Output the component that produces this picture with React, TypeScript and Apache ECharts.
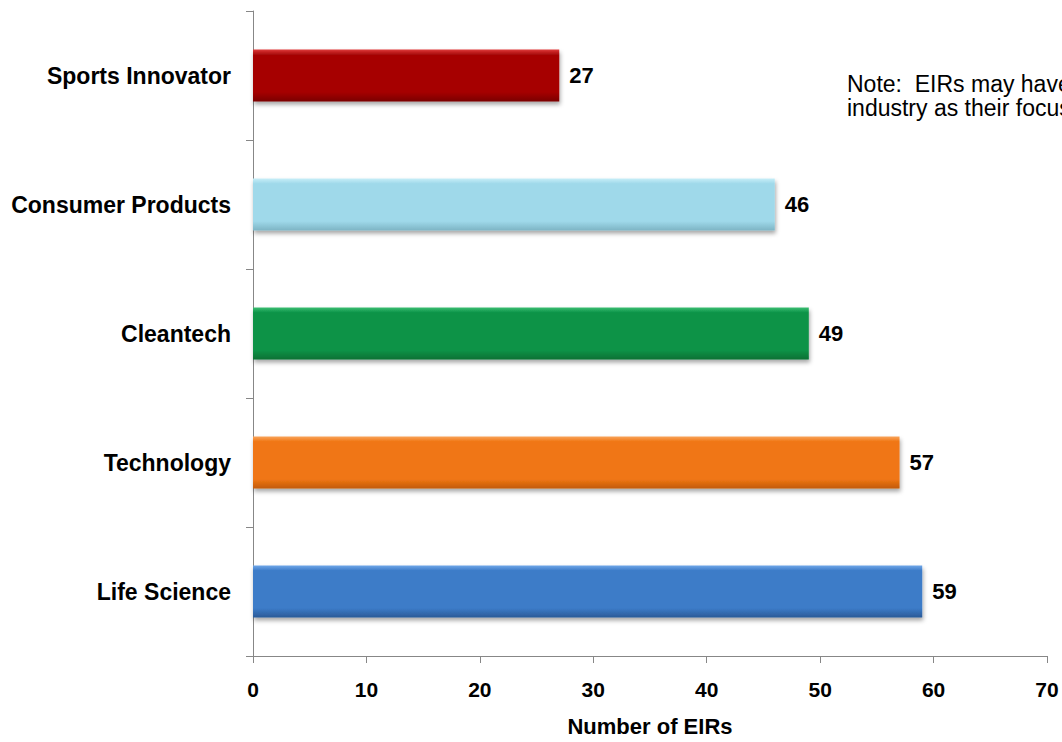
import React, { useEffect, useRef } from "react";
import * as echarts from "echarts";

const categories = ["Life Science", "Technology", "Cleantech", "Consumer Products", "Sports Innovator"];
const values = [59, 57, 49, 46, 27];
const baseColors = ["#3C7BC8", "#F07614", "#0A9347", "#9FD9EA", "#A60606"];
const lightColors = ["#6FA6E8", "#F9A45A", "#3DBE73", "#C7EEF8", "#E03A3A"];
const darkColors = ["#2A5A97", "#C25A0A", "#077034", "#7DB4C4", "#7A0303"];
const xTicks = [0, 10, 20, 30, 40, 50, 60, 70];
const xAxisName = "Number of EIRs";
const noteLines = ["Note:  EIRs may have selected more than one", "industry as their focus"];

export default function App() {
  const ref = useRef<HTMLDivElement>(null);
  useEffect(() => {
    if (!ref.current) return;
    document.body.style.margin = "0";
    document.body.style.overflow = "hidden";
    const chart = echarts.init(ref.current, undefined, { renderer: "svg" });
    const font = "Arial, 'Liberation Sans', sans-serif";
    chart.setOption({
      animation: false,
      backgroundColor: "#ffffff",
      grid: { left: 253, right: 15, top: 11, bottom: 79, containLabel: false },
      xAxis: {
        type: "value",
        min: xTicks[0],
        max: xTicks[xTicks.length - 1],
        interval: 10,
        name: xAxisName,
        nameLocation: "middle",
        nameGap: 59,
        nameTextStyle: { fontFamily: font, fontWeight: "bold", fontSize: 22, color: "#000" },
        axisLine: { show: true, lineStyle: { color: "#878787", width: 1 } },
        axisTick: { show: true, length: 7, lineStyle: { color: "#878787" } },
        axisLabel: { margin: 23, fontFamily: font, fontWeight: "bold", fontSize: 21, color: "#000" },
        splitLine: { show: false },
      },
      yAxis: {
        type: "category",
        data: categories,
        axisLine: { show: true, lineStyle: { color: "#878787", width: 1 } },
        axisTick: { show: true, length: 7, inside: false, lineStyle: { color: "#878787" } },
        axisLabel: { margin: 22, fontFamily: font, fontWeight: "bold", fontSize: 23, color: "#000" },
        splitLine: { show: false },
      },
      series: [
        {
          type: "bar",
          barWidth: 52,
          data: values.map((v, i) => ({
            value: v,
            itemStyle: {
              color: new echarts.graphic.LinearGradient(0, 0, 0, 1, [
                { offset: 0, color: lightColors[i] },
                { offset: 0.1, color: baseColors[i] },
                { offset: 0.82, color: baseColors[i] },
                { offset: 1, color: darkColors[i] },
              ]),
              shadowColor: "rgba(0,0,0,0.35)",
              shadowBlur: 4,
              shadowOffsetY: 3,
              shadowOffsetX: 1,
            },
          })),
          label: {
            show: true,
            position: "right",
            distance: 10,
            fontFamily: font,
            fontWeight: "bold",
            fontSize: 22,
            color: "#000",
          },
        },
      ],
      graphic: noteLines.map((t, i) => ({
        type: "text",
        left: 847,
        top: 72 + i * 24,
        style: { text: t, fontFamily: font, fontSize: 23, fill: "#000" },
      })),
    });
    return () => chart.dispose();
  }, []);
  return (
    <div
      ref={ref}
      style={{ position: "fixed", left: 0, top: 0, width: 1062, height: 742, overflow: "hidden" }}
    />
  );
}
